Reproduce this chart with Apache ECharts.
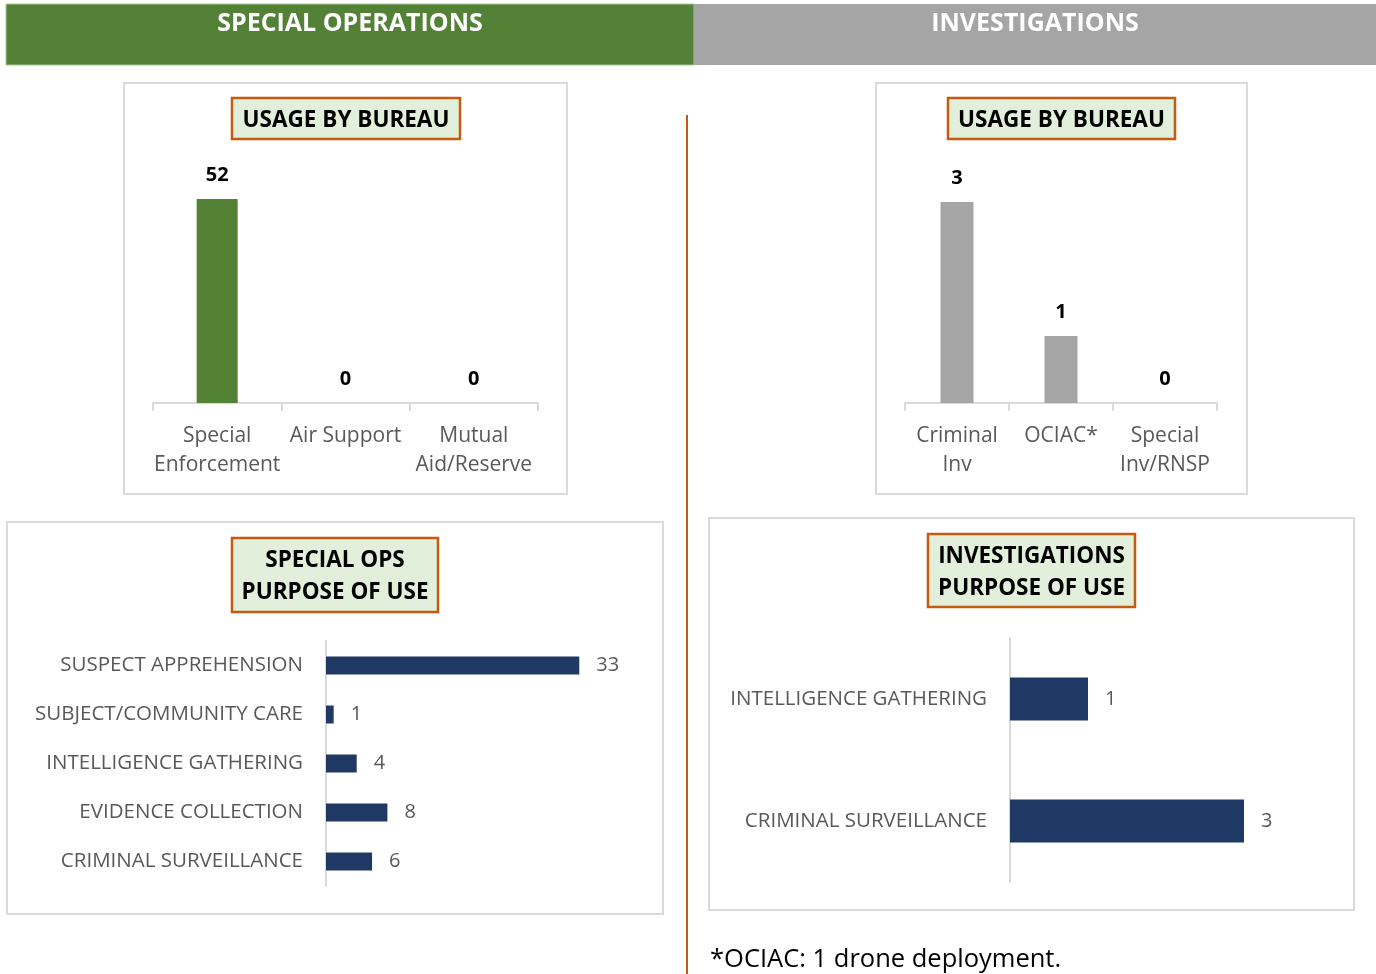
<!DOCTYPE html>
<html>
<head>
<meta charset="utf-8">
<script src="https://cdn.jsdelivr.net/npm/echarts@6/dist/echarts.min.js"></script>
<style>
  body { margin: 0; background: #fff; }
  #dashboard { width: 1376px; height: 974px; }
</style>
</head>
<body>
<div id="dashboard"></div>
<script>
// Usage by bureau
const opsBureaus = ["Special\nEnforcement", "Air Support", "Mutual\nAid/Reserve"];
const opsBureauCounts = [52, 0, 0];
const invBureaus = ["Criminal\nInv", "OCIAC*", "Special\nInv/RNSP"];
const invBureauCounts = [3, 1, 0];

// Purpose of use
const opsPurposes = [
  "SUSPECT APPREHENSION",
  "SUBJECT/COMMUNITY CARE",
  "INTELLIGENCE GATHERING",
  "EVIDENCE COLLECTION",
  "CRIMINAL SURVEILLANCE",
];
const opsPurposeCounts = [33, 1, 4, 8, 6];
const invPurposes = ["INTELLIGENCE GATHERING", "CRIMINAL SURVEILLANCE"];
const invPurposeCounts = [1, 3];

const FONT = '"Open Sans", "Noto Sans", sans-serif';
const labelGray = "#595959";
const axisGray = "#D9D9D9";
const orange = "#C55A11";

// helpers for the panel furniture
function panelBox(x, y, w, h) {
  return {
    type: "rect",
    shape: { x: x, y: y, width: w, height: h },
    style: { fill: "none", stroke: axisGray, lineWidth: 2 },
  };
}
function titleBox(x, y, w, h, lines) {
  const items = [
    {
      type: "rect",
      shape: { x: x, y: y, width: w, height: h },
      style: { fill: "#E2EFDA", stroke: orange, lineWidth: 2.5 },
    },
  ];
  const lineGap = 32;
  const firstY = y + h / 2 + 2 - (lineGap * (lines.length - 1)) / 2;
  lines.forEach((t, i) => {
    items.push({
      type: "text",
      x: x + w / 2,
      y: firstY + lineGap * i,
      style: {
        text: t,
        fill: "#000",
        font: "bold 22.5px " + FONT,
        align: "center",
        verticalAlign: "middle",
      },
    });
  });
  return items;
}

const chart = echarts.init(document.getElementById("dashboard"));

const columnXAxis = (idx, names) => ({
  type: "category",
  gridIndex: idx,
  data: names,
  axisLine: { lineStyle: { color: axisGray, width: 2 } },
  axisTick: { show: true, length: 8, lineStyle: { color: axisGray, width: 2 } },
  axisLabel: {
    color: labelGray,
    fontFamily: FONT,
    fontSize: 21,
    lineHeight: 29,
    margin: 19,
    interval: 0,
  },
});
const hiddenValue = (idx, max) => ({
  type: "value",
  gridIndex: idx,
  min: 0,
  max: max,
  show: false,
  splitLine: { show: false },
});
const barYAxis = (idx, names) => ({
  type: "category",
  gridIndex: idx,
  inverse: true,
  data: names,
  axisLine: { lineStyle: { color: axisGray, width: 2 } },
  axisTick: { show: false },
  axisLabel: {
    color: labelGray,
    fontFamily: FONT,
    fontSize: 20.5,
    margin: 23,
  },
});
const topLabel = {
  show: true,
  position: "top",
  distance: 14,
  color: "#000",
  fontWeight: "bold",
  fontFamily: FONT,
  fontSize: 20,
};
const rightLabel = {
  show: true,
  position: "right",
  distance: 17,
  color: labelGray,
  fontFamily: FONT,
  fontSize: 20,
};

const option = {
  animation: false,
  grid: [
    { left: 153, top: 199, width: 385, height: 204 },
    { left: 905, top: 202, width: 312, height: 201 },
    { left: 326, top: 641, width: 307, height: 245 },
    { left: 1010, top: 638, width: 312, height: 244 },
  ],
  xAxis: [
    columnXAxis(0, opsBureaus),
    columnXAxis(1, invBureaus),
    hiddenValue(2, 40),
    hiddenValue(3, 4),
  ],
  yAxis: [
    hiddenValue(0, 52),
    hiddenValue(1, 3),
    barYAxis(2, opsPurposes),
    barYAxis(3, invPurposes),
  ],
  series: [
    {
      type: "bar",
      xAxisIndex: 0,
      yAxisIndex: 0,
      data: opsBureauCounts,
      barWidth: 41,
      itemStyle: { color: "#548235" },
      label: topLabel,
    },
    {
      type: "bar",
      xAxisIndex: 1,
      yAxisIndex: 1,
      data: invBureauCounts,
      barWidth: 33,
      itemStyle: { color: "#A5A5A5" },
      label: topLabel,
    },
    {
      type: "bar",
      xAxisIndex: 2,
      yAxisIndex: 2,
      data: opsPurposeCounts,
      barWidth: 18,
      itemStyle: { color: "#203864" },
      label: rightLabel,
    },
    {
      type: "bar",
      xAxisIndex: 3,
      yAxisIndex: 3,
      data: invPurposeCounts,
      barWidth: 43,
      itemStyle: { color: "#203864" },
      label: rightLabel,
    },
  ],
  graphic: [
    // header bands
    {
      type: "rect",
      shape: { x: 6, y: 4, width: 688, height: 61 },
      style: { fill: "#538135", stroke: "#A9C98F", lineWidth: 1 },
    },
    {
      type: "rect",
      shape: { x: 694, y: 4, width: 682, height: 61 },
      style: { fill: "#A5A5A5" },
    },
    {
      type: "text",
      x: 350,
      y: 24,
      style: {
        text: "SPECIAL OPERATIONS",
        fill: "#fff",
        font: "bold 25px " + FONT,
        align: "center",
        verticalAlign: "middle",
      },
    },
    {
      type: "text",
      x: 1035,
      y: 24,
      style: {
        text: "INVESTIGATIONS",
        fill: "#fff",
        font: "bold 25px " + FONT,
        align: "center",
        verticalAlign: "middle",
      },
    },
    // divider
    {
      type: "line",
      shape: { x1: 687, y1: 115, x2: 687, y2: 974 },
      style: { stroke: orange, lineWidth: 2 },
    },
    panelBox(124, 83, 443, 411),
    panelBox(876, 83, 371, 411),
    panelBox(7, 522, 656, 392),
    panelBox(709, 518, 645, 392),
    ...titleBox(232, 98, 228, 41, ["USAGE BY BUREAU"]),
    ...titleBox(948, 98, 227, 41, ["USAGE BY BUREAU"]),
    ...titleBox(232, 538, 206, 74, ["SPECIAL OPS", "PURPOSE OF USE"]),
    ...titleBox(928, 534, 207, 73, ["INVESTIGATIONS", "PURPOSE OF USE"]),
    // footnote
    {
      type: "text",
      x: 710,
      y: 960,
      style: {
        text: "*OCIAC: 1 drone deployment.",
        fill: "#000",
        font: "25.5px " + FONT,
        align: "left",
        verticalAlign: "middle",
      },
    },
  ],
};
chart.setOption(option);
</script>
</body>
</html>
